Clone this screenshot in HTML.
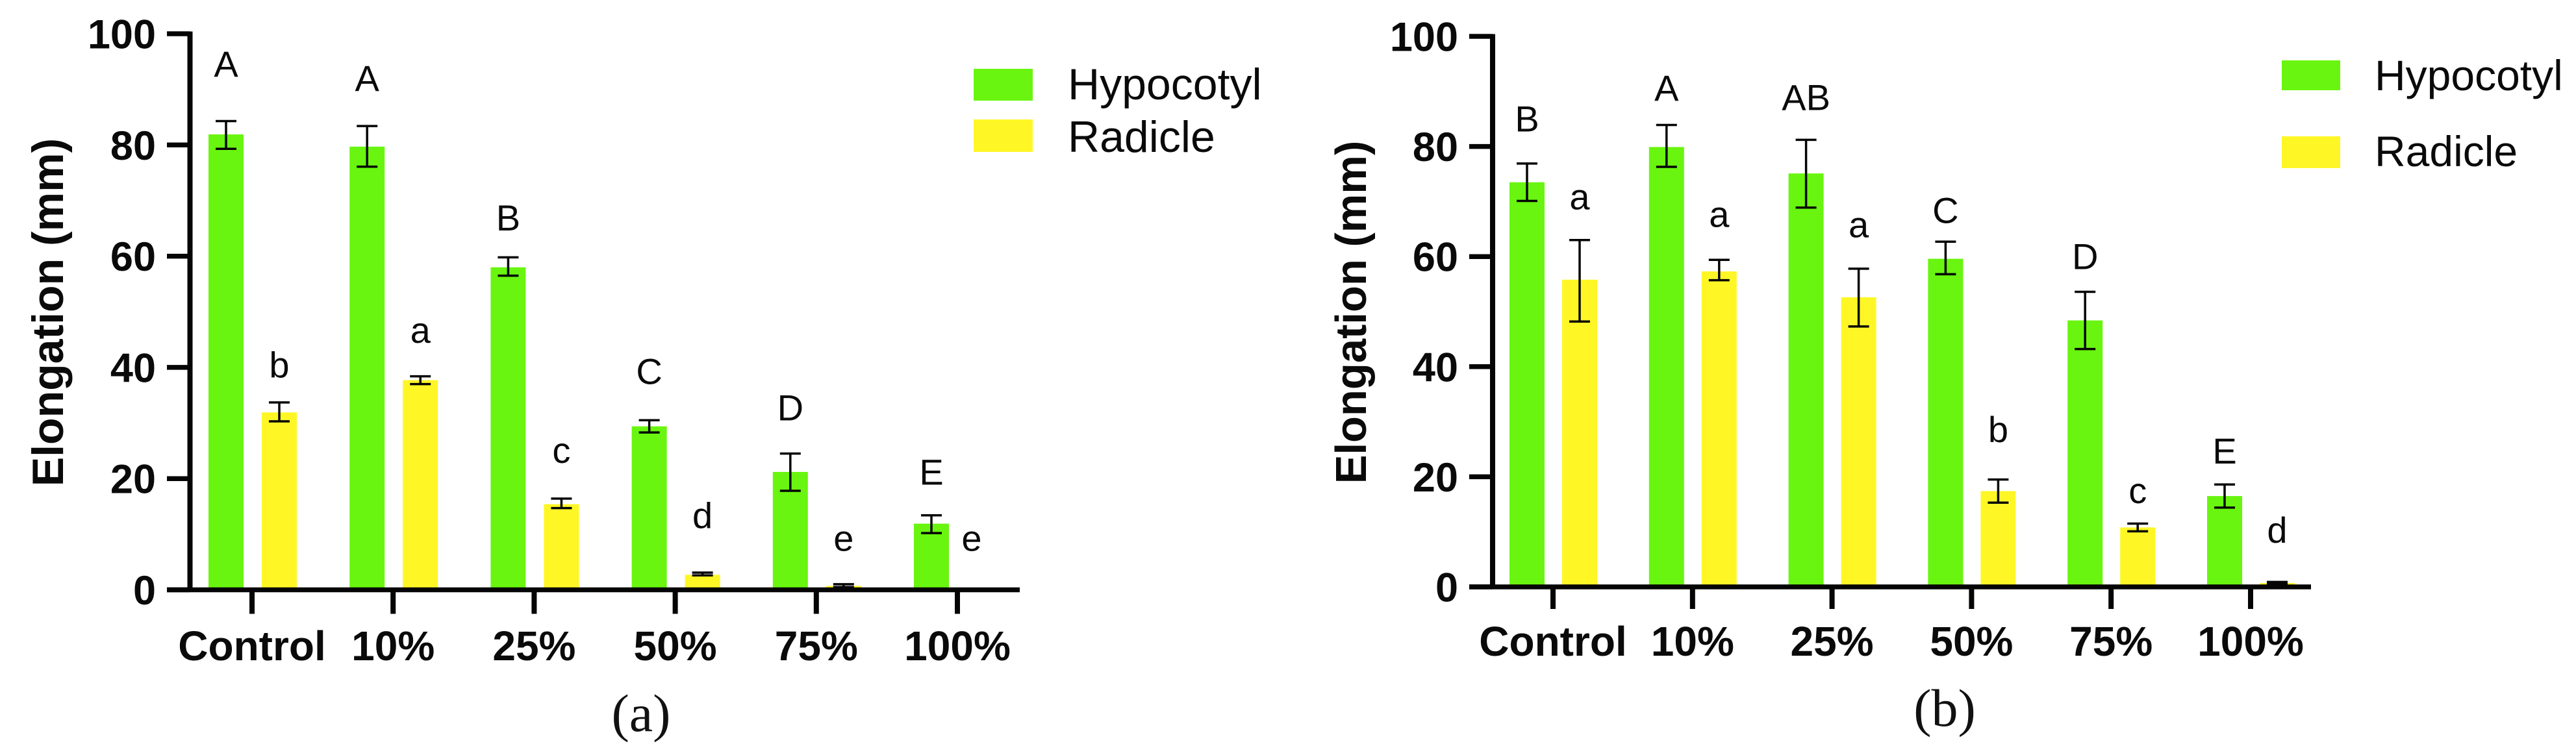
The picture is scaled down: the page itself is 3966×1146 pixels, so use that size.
<!DOCTYPE html>
<html lang="en">
<head>
<meta charset="utf-8">
<title>Hypocotyl and radicle elongation</title>
<style>
  html, body { margin: 0; padding: 0; background: #fff; }
  body { width: 3966px; height: 1146px; overflow: hidden; }
  svg { display: block; }
  text { font-family: "Liberation Sans", Arial, sans-serif; fill: #0a0a0a; }
  .bold { font-weight: 700; }
  .cap { font-family: "Liberation Serif", "Times New Roman", serif; font-size: 82px; text-anchor: middle; fill: #111; }
</style>
</head>
<body>
<svg id="fig" width="3966" height="1146" viewBox="0 0 3966 1146" xmlns="http://www.w3.org/2000/svg">
  <rect width="3966" height="1146" fill="#fff"/>

  <g>
    <g id="panelA"></g>
    <text class="bold" transform="translate(97 481) rotate(-90)" text-anchor="middle" font-size="68">Elongation (mm)</text>
    <g>
      <rect x="1499" y="106" width="91" height="49" fill="#69f50f"/>
      <text x="1644" y="153" font-size="68">Hypocotyl</text>
      <rect x="1499" y="184" width="91" height="50" fill="#fff626"/>
      <text x="1644" y="234" font-size="68">Radicle</text>
    </g>
    <text class="cap" x="987" y="1126">(a)</text>
  </g>

  <g>
    <g id="panelB"></g>
    <text class="bold" transform="translate(2103 481) rotate(-90)" text-anchor="middle" font-size="67">Elongation (mm)</text>
    <g>
      <rect x="3513" y="93" width="90" height="46" fill="#69f50f"/>
      <text x="3656" y="139" font-size="66">Hypocotyl</text>
      <rect x="3513" y="210" width="90" height="49" fill="#fff626"/>
      <text x="3656" y="256" font-size="66">Radicle</text>
    </g>
    <text class="cap" x="2994" y="1118">(b)</text>
  </g>
</svg>

<script>
// ---------- data ----------
const categories = ['Control', '10%', '25%', '50%', '75%', '100%'];
const yTicks = [0, 20, 40, 60, 80, 100];

// Panel (a)
const hypocotylA    = [81.9, 79.7, 58.0, 29.4, 21.2, 11.9];
const hypocotylLoA  = [79.3, 76.1, 56.5, 28.3, 17.8, 10.2];
const hypocotylHiA  = [84.3, 83.4, 59.8, 30.5, 24.5, 13.4];
const radicleA      = [31.9, 37.7, 15.4, 2.7, 0.7, 0];
const radicleLoA    = [30.3, 37.0, 14.7, 2.6, 0.5, 0];
const radicleHiA    = [33.7, 38.4, 16.4, 3.1, 1.0, 0];
const hypocotylLettersA = ['A', 'A', 'B', 'C', 'D', 'E'];
const radicleLettersA   = ['b', 'a', 'c', 'd', 'e', 'e'];
// letter lift above the error-bar top, in axis units
const hypocotylLiftA = [8.0, 6.3, 4.8, 6.5, 6.0, 5.5];
const radicleLiftA   = [4.5, 6.0, 6.4, 8.0, 6.0, 7.0];

// Panel (b)
const hypocotylB    = [73.5, 79.9, 75.1, 59.6, 48.4, 16.5];
const hypocotylLoB  = [70.1, 76.3, 68.9, 56.8, 43.2, 14.4];
const hypocotylHiB  = [76.9, 83.9, 81.2, 62.7, 53.6, 18.6];
const radicleB      = [55.8, 57.3, 52.6, 17.4, 10.8, 0.7];
const radicleLoB    = [48.2, 55.7, 47.3, 15.3, 10.1, 0.5];
const radicleHiB    = [63.0, 59.4, 57.8, 19.5, 11.5, 0.9];
const hypocotylLettersB = ['B', 'A', 'AB', 'C', 'D', 'E'];
const radicleLettersB   = ['a', 'a', 'a', 'b', 'c', 'd'];
const hypocotylLiftB = [5.8, 4.4, 5.4, 3.4, 4.1, 3.8];
const radicleLiftB   = [5.6, 6.0, 5.7, 6.8, 3.7, 7.1];

// ---------- drawing ----------
const SVG_NS = 'http://www.w3.org/2000/svg';
const GREEN = '#69f50f';
const YELLOW = '#fff626';
const INK = '#050505';

function make(parent, tag) {
  const el = document.createElementNS(SVG_NS, tag);
  parent.appendChild(el);
  return el;
}

function line(parent, x1, y1, x2, y2, w) {
  const el = make(parent, 'line');
  el.setAttribute('x1', x1);
  el.setAttribute('y1', y1);
  el.setAttribute('x2', x2);
  el.setAttribute('y2', y2);
  el.setAttribute('stroke', INK);
  el.setAttribute('stroke-width', w);
  return el;
}

function label(parent, x, y, size, anchor, str, bold) {
  const el = make(parent, 'text');
  el.setAttribute('x', x);
  el.setAttribute('y', y);
  el.setAttribute('font-size', size);
  el.setAttribute('text-anchor', anchor);
  if (bold) el.setAttribute('class', 'bold');
  el.textContent = str;
  return el;
}

function drawSeries(root, p, s) {
  const x = function (i) { return p.xStart + i * p.xStep + s.offset; };
  const y = function (v) { return p.y0 - v * p.yUnit; };

  s.values.forEach(function (v, i) {
    if (v <= 0) return;
    const bar = make(root, 'rect');
    
    
    bar.setAttribute('x', x(i) - p.barW / 2);
    bar.setAttribute('y', y(v));
    bar.setAttribute('width', p.barW);
    bar.setAttribute('height', y(0) - y(v));
    bar.setAttribute('fill', s.color);
  });

  s.values.forEach(function (v, i) {
    if (s.hi[i] <= 0) return;
    const err = make(root, 'g');
    
    
    line(err, x(i), y(s.hi[i]), x(i), y(s.lo[i]), 3.5);
    line(err, x(i) - 16, y(s.hi[i]), x(i) + 16, y(s.hi[i]), 3.5);
    line(err, x(i) - 16, y(s.lo[i]), x(i) + 16, y(s.lo[i]), 3.5);
  });

  s.letters.forEach(function (t, i) {
    const nudge = (s.nudgeLast && i === s.letters.length - 1) ? s.nudgeLast : 0;
    const el = label(root, x(i) + nudge, y(s.hi[i] + s.lift[i]), p.letterSize, 'middle', t, false);
    
    
  });
}

function drawPanel(root, p, series) {
  series.forEach(function (s) { drawSeries(root, p, s); });

  const y = function (v) { return p.y0 - v * p.yUnit; };
  const x = function (i) { return p.xStart + i * p.xStep; };

  const yAxis = line(root, p.axisX, y(100) - 3.5, p.axisX, y(0) + 3.5, 8);
  
  

  const xAxis = line(root, p.tickLeft, y(0), p.axisEnd, y(0), 7.5);
  
  

  yTicks.forEach(function (v) {
    const tick = line(root, p.tickLeft, y(v), p.axisX, y(v), 7.5);
    
    
    const txt = label(root, p.tickLabelRight, y(v) + 22.5, 63, 'end', String(v), true);
    
    
  });

  categories.forEach(function (c, i) {
    const tick = line(root, x(i), y(0), x(i), y(0) + p.xTickLen, 8);
    
    
    const txt = label(root, x(i), p.xLabelY, 64, 'middle', c, true);
    
    
  });
}

drawPanel(document.getElementById('panelA'),
  { xStart: 388, xStep: 217.2, y0: 908.5, yUnit: 8.565, barW: 54, letterSize: 56,
    axisX: 292.5, axisEnd: 1570, tickLeft: 257, tickLabelRight: 240, xTickLen: 37, xLabelY: 1017 },
  [
    { key: 'hypocotyl', color: GREEN, offset: -40, values: hypocotylA, lo: hypocotylLoA, hi: hypocotylHiA,
      letters: hypocotylLettersA, lift: hypocotylLiftA },
    { key: 'radicle', color: YELLOW, offset: 42, values: radicleA, lo: radicleLoA, hi: radicleHiA,
      letters: radicleLettersA, lift: radicleLiftA, nudgeLast: -20 }
  ]);

drawPanel(document.getElementById('panelB'),
  { xStart: 2391, xStep: 214.8, y0: 904, yUnit: 8.48, barW: 54, letterSize: 56,
    axisX: 2298, axisEnd: 3558, tickLeft: 2262, tickLabelRight: 2245, xTickLen: 34, xLabelY: 1010 },
  [
    { key: 'hypocotyl', color: GREEN, offset: -40, values: hypocotylB, lo: hypocotylLoB, hi: hypocotylHiB,
      letters: hypocotylLettersB, lift: hypocotylLiftB },
    { key: 'radicle', color: YELLOW, offset: 41, values: radicleB, lo: radicleLoB, hi: radicleHiB,
      letters: radicleLettersB, lift: radicleLiftB }
  ]);
</script>
</body>
</html>
